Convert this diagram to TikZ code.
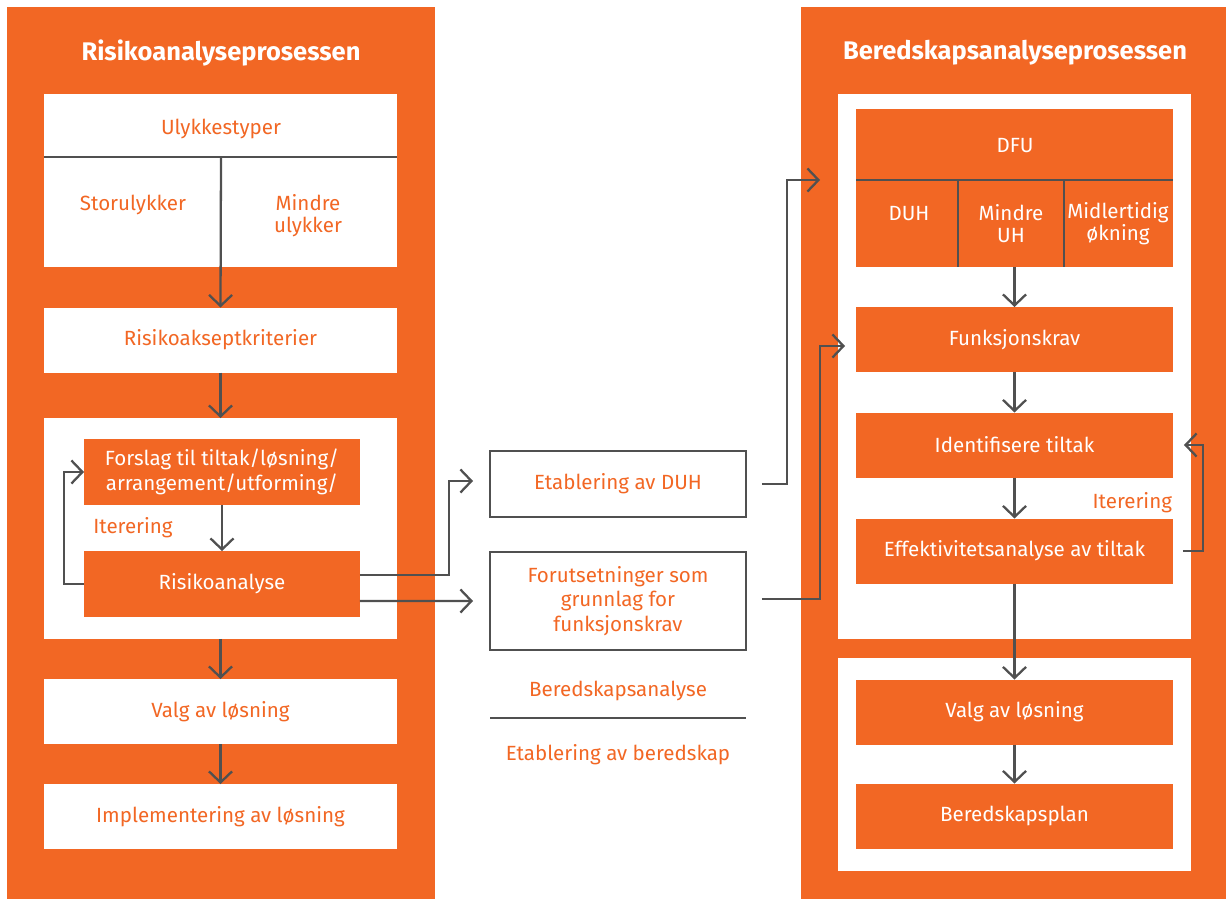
\documentclass[tikz,border=0pt]{standalone}
\usepackage{fontspec}
\setmainfont{Fira Sans}
\usetikzlibrary{positioning, arrows.meta}
\definecolor{clrorange}{HTML}{F26724}
\definecolor{clrline}{HTML}{505050}

\begin{document}
\begin{tikzpicture}[
    x=0.02cm, y=-0.02cm,
    >={Straight Barb[length=0.22cm, width=0.46cm]},
    every node/.style={font=\fontsize{11.7}{14}\selectfont, inner sep=0, outer sep=0},
    panel/.style={fill=clrorange, minimum height=17.84cm},
    title/.style={font=\fontsize{14.5}{16}\selectfont\bfseries, text=white},
    whitebox/.style={fill=white, text=clrorange, minimum width=7.06cm, minimum height=1.3cm, align=center},
    stepbox/.style={fill=clrorange, text=white, minimum width=6.34cm, minimum height=1.3cm, align=center},
    outbox/.style={draw=clrline, line width=1.3pt, text=clrorange, minimum width=5.12cm, minimum height=1.32cm, align=center},
    label/.style={text=clrorange, align=center},
    sublabel/.style={text=white, align=center},
    tight/.style={font=\fontsize{11.7}{12.5}\selectfont},
    arrow/.style={->, draw=clrline, line width=1.3pt},
    divider/.style={draw=clrline, line width=1.3pt},
]
\useasboundingbox (0,0) rectangle (1226,899);
% panels
\node[panel, minimum width=8.56cm] (risk_panel) at (221,453) {};
\node[panel, minimum width=8.5cm] (bered_panel) at (1013.5,453) {};
\node[title] (risk_title) at (221,53) {Risikoanalyseprosessen};
\node[title] (bered_title) at (1015,53) {Beredskapsanalyseprosessen};
% left column
\node[whitebox, minimum height=3.46cm] (ulykke) at (220.5,180.5) {};
\node[label] (ulykke_txt) at (221,129) {Ulykkestyper};
\node[label] (stor_txt) at (133,205) {Storulykker};
\node[label, tight] (mindre_txt) at (308,216) {Mindre\\ulykker};
\coordinate (ulykke_split) at (221,157);
\node[whitebox] (aksept) at (220.5,340) {Risikoakseptkriterier};
\node[whitebox, minimum height=4.42cm] (iter_box) at (220.5,528.5) {};
\node[stepbox, minimum width=5.52cm, minimum height=1.32cm] (forslag) at (222,472) {Forslag til tiltak/løsning/\\arrangement/utforming/};
\node[stepbox, minimum width=5.52cm, minimum height=1.32cm] (risiko) at (222,584) {Risikoanalyse};
\node[label] (iter_left) at (133,528) {Iterering};
\node[whitebox] (valg_left) at (220.5,711.5) {Valg av løsning};
\node[whitebox] (impl) at (220.5,816.5) {Implementering av løsning};
% middle column
\node[outbox] (etabl_duh) at (618,484) {Etablering av DUH};
\node[outbox, minimum height=1.96cm] (forut) at (618,601) {Forutsetninger som\\grunnlag for\\funksjonskrav};
\node[label] (bered_txt) at (618,691) {Beredskapsanalyse};
\coordinate (mid_split) at (618,718);
\node[label] (etabl_txt) at (618,755) {Etablering av beredskap};
% right column
\node[whitebox, minimum height=10.9cm] (bered_upper) at (1014.5,366.5) {};
\node[whitebox, minimum height=4.26cm] (bered_lower) at (1014.5,764.5) {};
\node[stepbox, minimum height=3.16cm] (dfu) at (1014.5,188) {};
\node[sublabel] (dfu_txt) at (1015,146) {DFU};
\node[sublabel] (duh_txt) at (909,214) {DUH};
\node[sublabel, tight] (mindre_uh_txt) at (1011,224) {Mindre\\UH};
\node[sublabel, tight] (midl_txt) at (1118,224) {Midlertidig\\økning};
\coordinate (dfu_split) at (1014.5,180);
\coordinate (dfu_cut_1) at (958,180);
\coordinate (dfu_cut_2) at (1064,180);
\node[stepbox] (funk) at (1014.5,339.5) {Funksjonskrav};
\node[stepbox] (ident) at (1014.5,445) {Identifisere tiltak};
\node[stepbox] (effekt) at (1014.5,551) {Effektivitetsanalyse av tiltak};
\node[label, anchor=east] (iter_right) at (1172,503) {Iterering};
\node[stepbox] (valg_right) at (1014.5,712) {Valg av løsning};
\node[stepbox] (plan) at (1014.5,816) {Beredskapsplan};
% dividers
\draw[divider] (ulykke.west |- ulykke_split) -- (ulykke.east |- ulykke_split);
\draw[divider] (dfu.west |- dfu_split) -- (dfu.east |- dfu_split);
\draw[divider] (dfu_cut_1) -- (dfu_cut_1 |- dfu.south);
\draw[divider] (dfu_cut_2) -- (dfu_cut_2 |- dfu.south);
\draw[divider] (forut.west |- mid_split) -- (forut.east |- mid_split);
% arrows left
\draw[arrow] (ulykke_split) -- (aksept.north);
\draw[arrow] (aksept.south) -- (iter_box.north);
\draw[arrow] (forslag.south) -- (risiko.north);
\draw[arrow] (risiko.west) -- ++(-20,0) |- (forslag.west);
\draw[arrow] (iter_box.south) -- (valg_left.north);
\draw[arrow] (valg_left.south) -- (impl.north);
% arrows middle
\draw[arrow, shorten >=0.34cm] ([yshift=0.18cm]risiko.east) -- ++(89,0) |- ([yshift=0.06cm]etabl_duh.west);
\draw[arrow, shorten >=0.34cm] ([yshift=-0.34cm]risiko.east) -- (forut.west);
\draw[arrow, shorten <=0.32cm, shorten >=0.72cm] (etabl_duh.east) -- ++(41,0) |- ([yshift=0.16cm]dfu.west);
\draw[arrow, shorten <=0.32cm, shorten >=0.22cm] ([yshift=0.04cm]forut.east) -- ++(74,0) |- ([yshift=-0.13cm]funk.west);
% arrows right
\draw[arrow] (dfu.south) -- (funk.north);
\draw[arrow] (funk.south) -- (ident.north);
\draw[arrow] (ident.south) -- (effekt.north);
\draw[arrow, shorten <=0.2cm, shorten >=0.22cm] (effekt.east) -- ++(30,0) |- (ident.east);
\draw[arrow] (effekt.south) -- (valg_right.north);
\draw[arrow] (valg_right.south) -- (plan.north);
\end{tikzpicture}
\end{document}
